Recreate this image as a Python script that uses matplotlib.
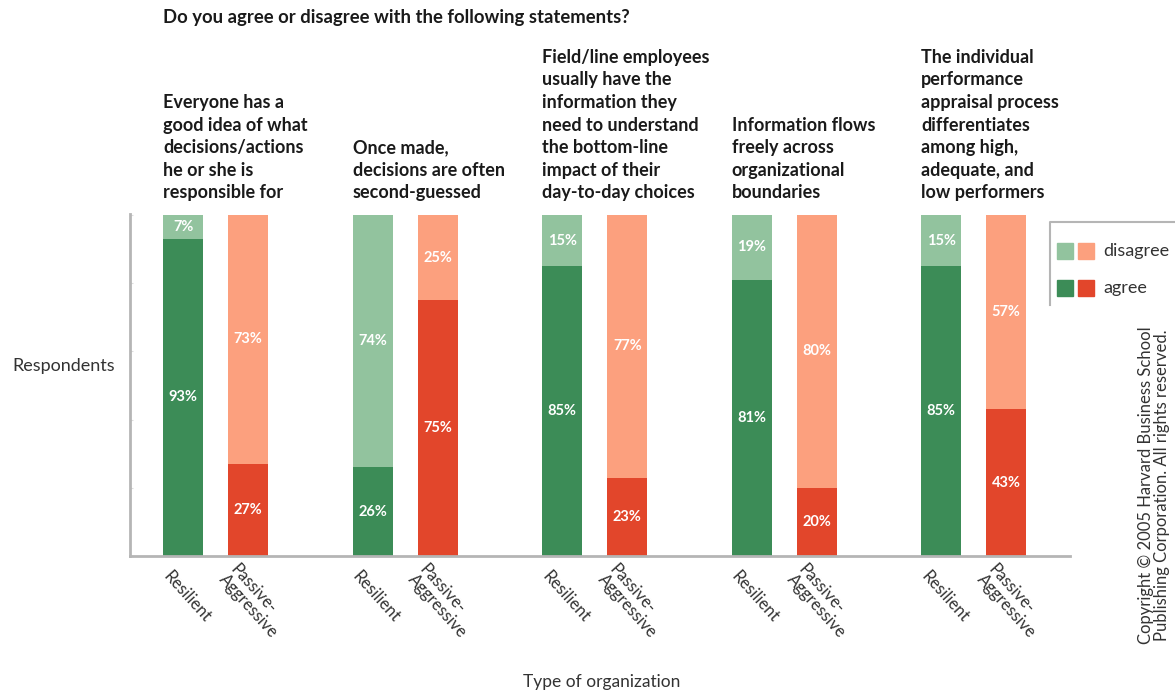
import numpy as np
import matplotlib.pyplot as plt
from matplotlib.patches import Rectangle

plt.rcParams["font.family"] = ["Lato", "DejaVu Sans"]

# Data
questions = [
    "Everyone has a\ngood idea of what\ndecisions/actions\nhe or she is\nresponsible for",
    "Once made,\ndecisions are often\nsecond-guessed",
    "Field/line employees\nusually have the\ninformation they\nneed to understand\nthe bottom-line\nimpact of their\nday-to-day choices",
    "Information flows\nfreely across\norganizational\nboundaries",
    "The individual\nperformance\nappraisal process\ndifferentiates\namong high,\nadequate, and\nlow performers",
]
org_types = ["Resilient", "Passive-\nAggressive"]
resilient_agree = [93, 26, 85, 81, 85]
resilient_disagree = [7, 74, 15, 19, 15]
passive_agree = [27, 75, 23, 20, 43]
passive_disagree = [73, 25, 77, 80, 57]

green_dark = "#3c8c57"
green_light = "#92c39e"
red_dark = "#e2462b"
red_light = "#fca07e"
axis_gray = "#b5b5b5"
text_gray = "#333333"

W, H = 1175, 694
fig = plt.figure(figsize=(W / 100, H / 100), dpi=100)

# main axes: 130..1070 px wide, 214..556 px tall
ax = fig.add_axes([130 / W, (H - 556) / H, (1070 - 130) / W, (556 - 214) / H])

step = 189.5
x = np.arange(len(questions))
off = 65 / step / 2
bw = 40 / step
xr = x - off
xp = x + off

ax.bar(xr, resilient_agree, bw, color=green_dark)
ax.bar(xr, resilient_disagree, bw, bottom=resilient_agree, color=green_light)
ax.bar(xp, passive_agree, bw, color=red_dark)
ax.bar(xp, passive_disagree, bw, bottom=passive_agree, color=red_light)

lab = dict(color="white", fontsize=10.5, fontweight="bold", ha="center", va="center")
for i in range(len(questions)):
    ax.text(xr[i], resilient_agree[i] / 2, f"{resilient_agree[i]}%", **lab)
    ax.text(xr[i], resilient_agree[i] + resilient_disagree[i] / 2, f"{resilient_disagree[i]}%", **lab)
    ax.text(xp[i], passive_agree[i] / 2, f"{passive_agree[i]}%", **lab)
    ax.text(xp[i], passive_agree[i] + passive_disagree[i] / 2, f"{passive_disagree[i]}%", **lab)

ax.set_xlim((130 - 215.75) / step, (1070 - 215.75) / step)
ax.set_ylim(0, 100.3)
for s in ["top", "right"]:
    ax.spines[s].set_visible(False)
for s in ["left", "bottom"]:
    ax.spines[s].set_color(axis_gray)
    ax.spines[s].set_linewidth(2)
ax.set_yticks([0, 20, 40, 60, 80, 100])
ax.set_yticklabels([])
ax.tick_params(axis="y", direction="in", length=2, color="#dddddd")
ax.set_xticks(np.concatenate([xr, xp]))
ax.set_xticklabels([])
ax.tick_params(axis="x", length=0)

# rotated category labels
for i in range(len(questions)):
    ax.text(xr[i] - 0.06, -3.5, org_types[0], rotation=-48, rotation_mode="anchor",
            ha="left", va="top", fontsize=12, color=text_gray)
    ax.text(xp[i] - 0.05, -1.5, org_types[1], rotation=-48, rotation_mode="anchor",
            ha="left", va="top", fontsize=12, color=text_gray, linespacing=0.95)

# question headers
for i, q in enumerate(questions):
    ax.text(xr[i] - bw / 2, 104, q, ha="left", va="bottom", fontsize=13,
            fontweight="bold", color="#1a1a1a", linespacing=1.4)

# overlay for page-level text and legend (pixel coordinates)
ov = fig.add_axes([0, 0, 1, 1], facecolor="none")
ov.set_xlim(0, W)
ov.set_ylim(H, 0)
ov.axis("off")

ov.text(163, 17, "Do you agree or disagree with the following statements?",
        ha="left", va="center", fontsize=13.3, fontweight="bold", color="#1a1a1a")
ov.text(12, 366, "Respondents", ha="left", va="center", fontsize=13, color=text_gray)
ov.text(602, 682, "Type of organization", ha="center", va="center", fontsize=12.5, color=text_gray)
ov.text(1154, 485, "Copyright © 2005 Harvard Business School\nPublishing Corporation. All rights reserved.",
        rotation=90, ha="center", va="center", fontsize=12, color=text_gray,
        linespacing=1.05)

# legend box
ov.plot([1050, 1050, 1180], [305, 222, 222], color=axis_gray, lw=1.5)
legend_rows = [("disagree", green_light, red_light, 251), ("agree", green_dark, red_dark, 288)]
for name, c1, c2, yc in legend_rows:
    ov.add_patch(Rectangle((1057, yc - 8), 16, 16, color=c1))
    ov.add_patch(Rectangle((1078, yc - 8), 16, 16, color=c2))
    ov.text(1103, yc, name, ha="left", va="center", fontsize=13, color=text_gray)

fig.savefig("out.png", dpi=100)
